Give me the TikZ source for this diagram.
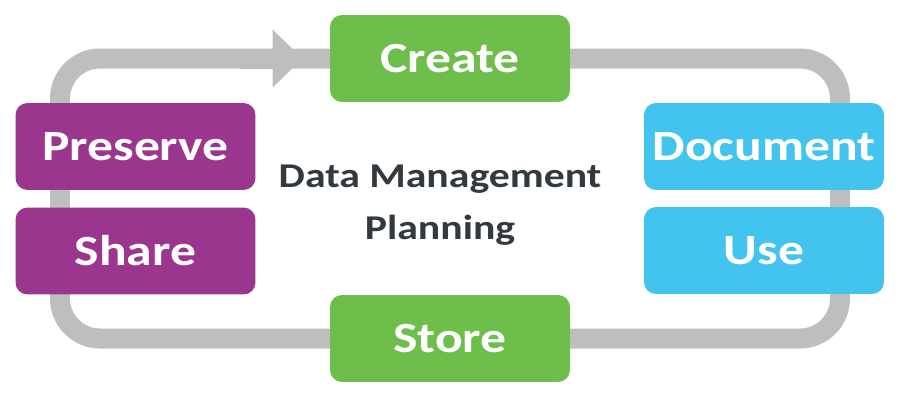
\documentclass[tikz,border=0pt]{standalone}
\usepackage{fontspec}
\setmainfont{Carlito}[FakeStretch=1.2]
\usetikzlibrary{arrows.meta,calc,backgrounds}
\definecolor{boxgreen}{HTML}{6DBE4B}
\definecolor{boxpurple}{HTML}{9B368F}
\definecolor{boxcyan}{HTML}{42C4EE}
\definecolor{loopgray}{HTML}{BEBEBE}
\definecolor{titletext}{HTML}{323A40}

\begin{document}
\begin{tikzpicture}[x=0.02cm,y=-0.02cm,
    box/.style={rounded corners=0.24cm, minimum width=4.8cm, minimum height=1.74cm,
        inner sep=0pt, text=white, font=\bfseries\fontsize{24.5}{28}\selectfont},
    loopline/.style={draw=loopgray, line width=0.4cm, rounded corners=0.8cm}]
    \useasboundingbox (0,0) rectangle (900,400);

    % Dobozok
    \node[box, fill=boxgreen] (create) at (450,58.5) {Create};
    \node[box, fill=boxgreen] (store) at (450,338.5) {Store};
    \node[box, fill=boxpurple] (preserve) at (135.5,146.5) {Preserve};
    \node[box, fill=boxpurple] (share) at (135.5,251) {Share};
    \node[box, fill=boxcyan] (document) at (764,146.5) {Document};
    \node[box, fill=boxcyan] (use) at (764,250.5) {Use};

    % Cim
    \node[text=titletext, align=center, font=\bfseries\fontsize{19.8}{29.5}\selectfont] (title) at (440,205)
        {Data Management\\Planning};

    % Szurke kor a dobozok mogott
    \begin{scope}[on background layer]
        \coordinate (rc) at (840,200);
        \coordinate (lc) at (60,200);
        \draw[loopline] (create.center) -| (rc) |- (store.center) -| (lc) |- (create.center);
        \draw[loopline, -{Triangle[length=0.6cm,width=1.12cm]}]
            ($(create.west)+(-90,0)$) -- ($(create.west)+(-27,0)$);
    \end{scope}
\end{tikzpicture}
\end{document}
